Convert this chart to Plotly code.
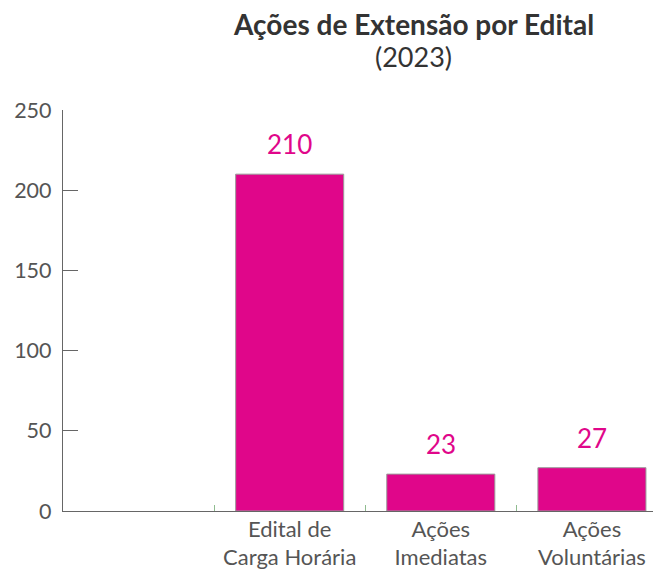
import plotly.graph_objects as go

categories = ["Edital de<br>Carga Horária", "Ações<br>Imediatas", "Ações<br>Voluntárias"]
values = [210, 23, 27]
y_ticks = [0, 50, 100, 150, 200, 250]

bar_color = "#E0068A"
axis_color = "#666666"
text_color = "#555555"

fig = go.Figure()
fig.add_trace(go.Bar(
    x=categories, y=values,
    marker=dict(color=bar_color, line=dict(color="#9a9a9a", width=1)),
    hoverinfo="skip",
))
for c, v in zip(categories, values):
    fig.add_annotation(x=c, y=v, text=str(v), showarrow=False, yanchor="bottom",
                       yshift=12, font=dict(family="Lato", size=26, color=bar_color))

fig.update_layout(
    width=661, height=570,
    margin=dict(l=55, r=0, t=102, b=67),
    paper_bgcolor="white", plot_bgcolor="white",
    showlegend=False,
    bargap=0.285,
    font=dict(family="Lato", color=text_color),
    xaxis=dict(
        type="category",
        categoryorder="array",
        categoryarray=[" "] + categories,
        range=[-0.5, 3.51],
        tickson="boundaries",
        ticks="inside", ticklen=6, tickcolor="#8fbc8f", tickwidth=1,
        showline=True, linecolor=axis_color, linewidth=1.3,
        showgrid=False, zeroline=False,
        tickfont=dict(family="Lato", size=22, color=text_color),
        ticklabelstandoff=-2,
        automargin=False,
    ),
    yaxis=dict(
        range=[0, 250],
        tickvals=y_ticks,
        ticks="inside", ticklen=15, tickcolor=axis_color, tickwidth=1,
        showline=True, linecolor=axis_color, linewidth=1.3,
        showgrid=False, zeroline=False,
        tickfont=dict(family="Lato", size=21.5, color=text_color),
        ticklabelstandoff=6,
        automargin=False,
    ),
)
fig.add_annotation(xref="paper", yref="paper", x=0.578, y=1, yshift=86,
                   text="<b>Ações de Extensão por Edital</b>", showarrow=False,
                   yanchor="middle", font=dict(family="Lato", size=28, color="#333333"))
fig.add_annotation(xref="paper", yref="paper", x=0.578, y=1, yshift=54,
                   text="(2023)", showarrow=False,
                   yanchor="middle", font=dict(family="Lato", size=27, color="#333333"))

fig.write_html("out.html")
